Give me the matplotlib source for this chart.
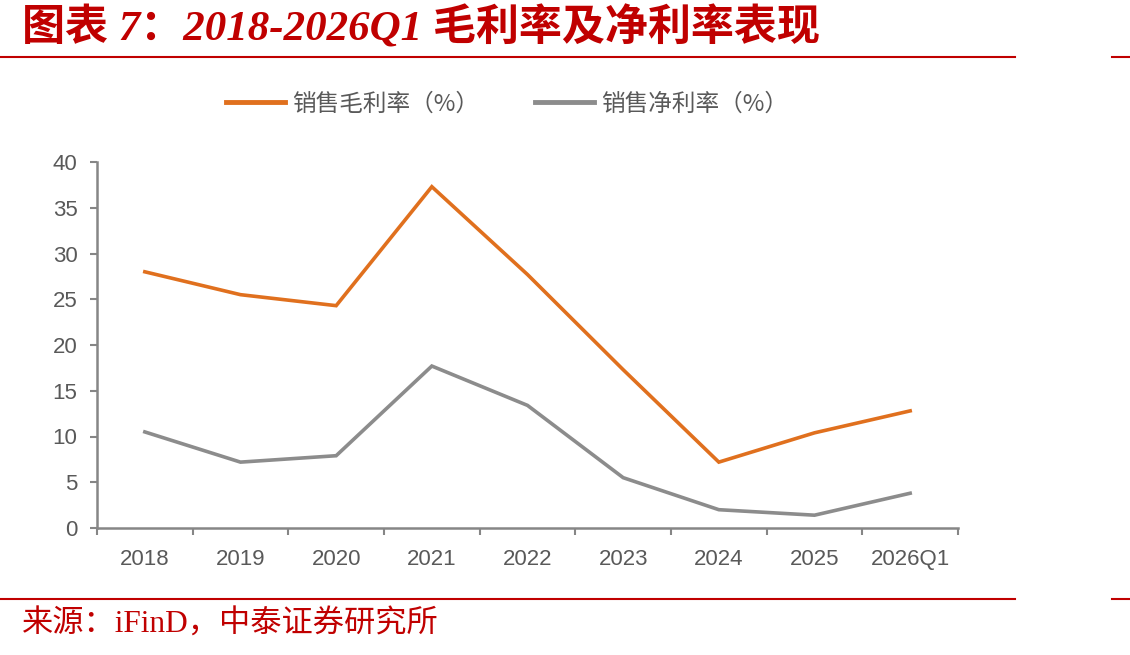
import matplotlib
matplotlib.use("Agg")
import matplotlib.pyplot as plt
from matplotlib.lines import Line2D

plt.rcParams['font.family'] = ['Liberation Sans', 'Noto Sans CJK SC', 'DejaVu Sans']

categories = ['2018', '2019', '2020', '2021', '2022', '2023', '2024', '2025', '2026Q1']
gross_margin = [28.0, 25.5, 24.3, 37.3, 27.7, 17.3, 7.2, 10.4, 12.8]
net_margin = [10.5, 7.2, 7.9, 17.7, 13.4, 5.5, 2.0, 1.4, 3.8]
y_ticks = [0, 5, 10, 15, 20, 25, 30, 35, 40]

title_text = '图表 7：2018-2026Q1 毛利率及净利率表现'
source_text = '来源：iFinD，中泰证券研究所'
series_names = ['销售毛利率（%）', '销售净利率（%）']

ORANGE = '#E0701E'
GRAY = '#8C8C8C'
AXIS = '#868686'
TEXT = '#595959'
RED = '#C00000'

fig = plt.figure(figsize=(11.3, 6.55), dpi=100)
ax = fig.add_axes([97/1130, 1-528/655, (958-97)/1130, (528-162)/655])

x = list(range(len(categories)))
ax.plot(x, gross_margin, color=ORANGE, lw=2.6, label=series_names[0], solid_joinstyle='miter')
ax.plot(x, net_margin, color=GRAY, lw=2.6, label=series_names[1], solid_joinstyle='miter')

ax.set_xlim(-0.5, len(categories) - 0.5)
ax.set_ylim(0, 40)
ax.set_yticks(y_ticks)
ax.set_yticklabels([str(v) for v in y_ticks])
ax.set_xticks(x)
ax.set_xticklabels(categories)
ax.set_xticks([i - 0.5 for i in range(len(categories) + 1)], minor=True)
ax.tick_params(axis='x', which='major', length=0, pad=15, labelsize=16, labelcolor=TEXT)
ax.tick_params(axis='x', which='minor', length=5, width=1.5, color=AXIS, direction='out')
ax.tick_params(axis='y', which='major', length=5, width=1.5, color=AXIS, direction='out', pad=9, labelsize=16, labelcolor=TEXT)

for s in ['top', 'right']:
    ax.spines[s].set_visible(False)
for s in ['left', 'bottom']:
    ax.spines[s].set_color(AXIS)
    ax.spines[s].set_linewidth(1.8)

handles = [Line2D([0], [0], color=ORANGE, lw=3.5), Line2D([0], [0], color=GRAY, lw=3.5)]
fig.legend(handles, series_names, loc='center', bbox_to_anchor=(507/1130, 1-104/655), ncol=2,
           frameon=False, handlelength=2.5, handletextpad=0.3, columnspacing=2.4,
           labelcolor=TEXT, prop={'family': ['Noto Sans CJK SC', 'DejaVu Sans'], 'size': 17})

# title
fig.text(22/1130, 1-28/655, title_text, color=RED, fontsize=31, fontweight='bold', style='italic',
         family=['Liberation Serif', 'Noto Sans CJK SC'], va='center', ha='left')
# red rules
for yy in [57, 599]:
    fig.add_artist(Line2D([0, 1015/1130], [1-yy/655, 1-yy/655], color=RED, lw=1.5, transform=fig.transFigure))
    fig.add_artist(Line2D([1112/1130, 1], [1-yy/655, 1-yy/655], color=RED, lw=1.5, transform=fig.transFigure))

fig.text(22/1130, 1-625/655, source_text, color=RED, fontsize=22.5,
         family=['Liberation Serif', 'Noto Sans CJK SC'], va='center', ha='left')

fig.savefig('out.png', dpi=100, facecolor='white')
